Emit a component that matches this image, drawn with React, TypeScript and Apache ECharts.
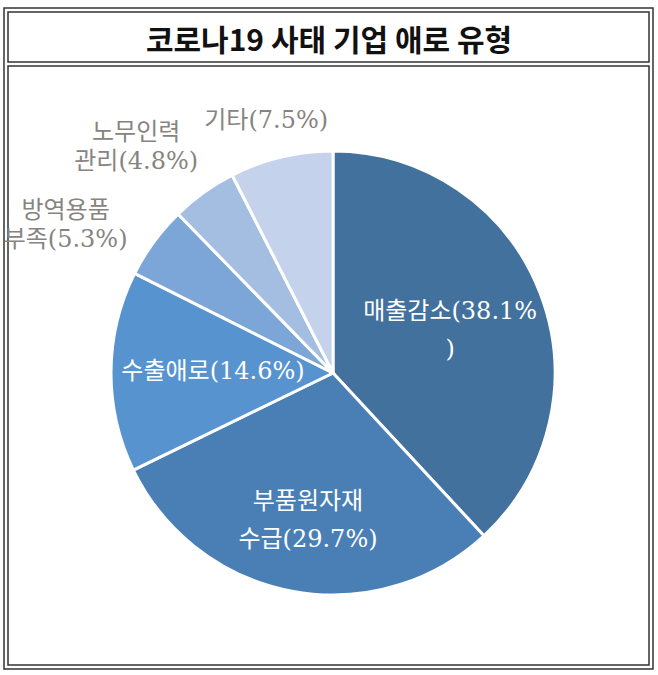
import { useEffect, useRef } from "react";
import * as echarts from "echarts";

const TITLE = "코로나19 사태 기업 애로 유형";

const CATEGORIES = [
  "매출감소",
  "부품원자재 수급",
  "수출애로",
  "방역용품 부족",
  "노무인력 관리",
  "기타",
];
const SHARES = [38.1, 29.7, 14.6, 5.3, 4.8, 7.5];
const COLORS = ["#41719C", "#4A7FB6", "#5794CF", "#7CA5D8", "#A4BEE2", "#C4D3EB"];
const INSIDE = [true, true, true, false, false, false];

// label nudges [dx, dy] after the pie's own placement
const NUDGE: [number, number][] = [
  [11, -1],
  [-4, 35],
  [-6, -1],
  [-59, 0],
  [-45, -22],
  [-3, -8],
];

const LABEL_FONT = "'DejaVu Serif', 'Noto Sans CJK KR', serif";

export default function App() {
  const ref = useRef<HTMLDivElement>(null);

  useEffect(() => {
    if (!ref.current) return;
    const chart = echarts.init(ref.current, undefined, { renderer: "svg" });

    chart.setOption({
      animation: false,
      backgroundColor: "#ffffff",
      graphic: [
        {
          type: "rect",
          shape: { x: 4, y: 8, width: 649, height: 661 },
          style: { fill: "none", stroke: "#333", lineWidth: 1.5 },
        },
        {
          type: "rect",
          shape: { x: 8, y: 12, width: 641, height: 50 },
          style: { fill: "none", stroke: "#333", lineWidth: 1.5 },
        },
        {
          type: "rect",
          shape: { x: 8, y: 66, width: 641, height: 599 },
          style: { fill: "none", stroke: "#333", lineWidth: 1.5 },
        },
        {
          type: "text",
          x: 329,
          y: 38,
          style: {
            text: TITLE,
            fill: "#111",
            font: "bold 30px 'Noto Sans CJK KR', sans-serif",
            align: "center",
            verticalAlign: "middle",
          },
        },
      ],
      series: [
        {
          type: "pie",
          center: [333, 373],
          radius: 222,
          startAngle: 90,
          clockwise: true,
          avoidLabelOverlap: false,
          itemStyle: { borderColor: "#ffffff", borderWidth: 3 },
          emphasis: { disabled: true },
          labelLine: { show: false, length: 30, length2: 0 },
          label: {
            fontFamily: LABEL_FONT,
            fontSize: 24,
            formatter: (p: { dataIndex: number; name: string; value: number }) =>
              p.dataIndex === 0
                ? `${p.name}(${p.value}%\n)`
                : `${p.name.replace(" ", "\n")}(${p.value}%)`,
          },
          labelLayout: (p: { dataIndex: number }) => ({
            dx: NUDGE[p.dataIndex][0],
            dy: NUDGE[p.dataIndex][1],
            align: "center",
          }),
          data: CATEGORIES.map((name, i) => ({
            name,
            value: SHARES[i],
            itemStyle: { color: COLORS[i] },
            label: INSIDE[i]
              ? { position: "inside", color: "#ffffff", lineHeight: 38 }
              : { position: "outside", color: "#878480", lineHeight: 29 },
            labelLine: { show: false },
          })),
        },
      ],
    });

    return () => chart.dispose();
  }, []);

  return (
    <div
      ref={ref}
      style={{ position: "fixed", left: 0, top: 0, width: 658, height: 675 }}
    />
  );
}
